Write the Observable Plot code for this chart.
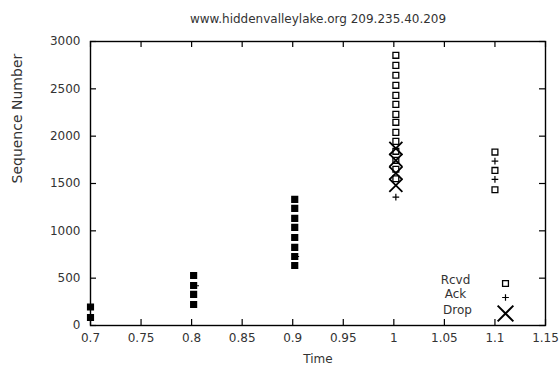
<!DOCTYPE html>
<html>
<head>
<meta charset="utf-8">
<script src="https://cdn.jsdelivr.net/npm/d3@7"></script>
<script src="https://cdn.jsdelivr.net/npm/@observablehq/plot@0.6"></script>
<style>
  html, body { margin: 0; padding: 0; background: #fff; }
</style>
</head>
<body>
<div id="chart"></div>
<script>
const title = "www.hiddenvalleylake.org 209.235.40.209";
const xLabel = "Time";
const yLabel = "Sequence Number";
const xTicks = [0.7, 0.75, 0.8, 0.85, 0.9, 0.95, 1, 1.05, 1.1, 1.15];
const xTickLabels = ["0.7", "0.75", "0.8", "0.85", "0.9", "0.95", "1", "1.05", "1.1", "1.15"];
const yTicks = [0, 500, 1000, 1500, 2000, 2500, 3000];

// Rcvd packets
const rcvdTime = [0.7, 0.7,
  0.802, 0.802, 0.802, 0.802,
  0.902, 0.902, 0.902, 0.902, 0.902, 0.902, 0.902, 0.902,
  1.002, 1.002, 1.002, 1.002, 1.002, 1.002, 1.002, 1.002, 1.002, 1.002,
  1.002, 1.002, 1.002, 1.002,
  1.1, 1.1, 1.1];
const rcvdSeq = [85, 195,
  222, 328, 423, 528,
  634, 729, 825, 930, 1036, 1131, 1237, 1332,
  1945, 2040, 2146, 2230, 2336, 2431, 2537, 2643, 2748, 2854,
  1840, 1745, 1650, 1550,
  1832, 1638, 1434];
// Acks
const ackTime = [0.804, 0.903, 1.002, 1.1, 1.1];
const ackSeq = [420, 729, 1356, 1737, 1543];
// Drops
const dropTime = [1.002, 1.002, 1.002, 1.002];
const dropSeq = [1870, 1745, 1610, 1480];

const legendLabels = ["Rcvd", "Ack", "Drop"];

const rcvd = rcvdTime.map((t, i) => ({t, s: rcvdSeq[i]}));
const ack = ackTime.map((t, i) => ({t, s: ackSeq[i]}));
const drop = dropTime.map((t, i) => ({t, s: dropSeq[i]}));

const W = 559, H = 370, mL = 90, mR = 14, mT = 41, mB = 45;
const pw = W - mL - mR, ph = H - mT - mB, tick = 6;
const ink = "#333";

const chart = Plot.plot({
  width: W, height: H,
  marginLeft: mL, marginRight: mR, marginTop: mT, marginBottom: mB,
  style: {fontFamily: "DejaVu Sans", fontSize: "12px", background: "white", color: "black"},
  x: {domain: [0.7, 1.15]},
  y: {domain: [0, 3000]},
  marks: [
    // tick labels
    Plot.axisX(xTicks, {label: null, tickSize: 0, tickPadding: 8, tickFormat: d => xTickLabels[xTicks.indexOf(d)], fill: ink}),
    Plot.axisY(yTicks, {label: null, tickSize: 0, tickPadding: 10, tickFormat: d => String(d), fill: ink}),
    // inward ticks, mirrored
    Plot.tickX(xTicks, {x: d => d, insetTop: ph - tick, strokeWidth: 1.2}),
    Plot.tickX(xTicks, {x: d => d, insetBottom: ph - tick, strokeWidth: 1.2}),
    Plot.tickY(yTicks, {y: d => d, insetRight: pw - tick, strokeWidth: 1.2}),
    Plot.tickY(yTicks, {y: d => d, insetLeft: pw - tick, strokeWidth: 1.2}),
    Plot.frame({stroke: "black", strokeWidth: 1.4}),
    // data
    Plot.dot(rcvd, {x: "t", y: "s", symbol: "square", r: 3.3, stroke: "black", strokeWidth: 1.3,
      fill: d => d.t < 0.95 ? "black" : "white"}),
    Plot.dot(ack, {x: "t", y: "s", symbol: "plus", r: 2.3, stroke: "black", strokeWidth: 1.2}),
    Plot.dot(drop, {x: "t", y: "s", symbol: "times", r: 6, stroke: "black", strokeWidth: 1.8}),
    // legend
    Plot.text([legendLabels[0]], {frameAnchor: "bottom-right", dx: -90, dy: -42, text: d => d, textAnchor: "middle", fill: ink}),
    Plot.text([legendLabels[1]], {frameAnchor: "bottom-right", dx: -90, dy: -28, text: d => d, textAnchor: "middle", fill: ink}),
    Plot.text([legendLabels[2]], {frameAnchor: "bottom-right", dx: -88, dy: -12, text: d => d, textAnchor: "middle", fill: ink}),
    Plot.dot([0], {frameAnchor: "bottom-right", dx: -40, dy: -42, symbol: "square", r: 3.3, stroke: "black", strokeWidth: 1.3, fill: "white"}),
    Plot.dot([0], {frameAnchor: "bottom-right", dx: -40, dy: -28, symbol: "plus", r: 2.3, stroke: "black", strokeWidth: 1.2}),
    Plot.dot([0], {frameAnchor: "bottom-right", dx: -40, dy: -12, symbol: "times", r: 7.2, stroke: "black", strokeWidth: 2}),
    // titles
    Plot.text([title], {frameAnchor: "top", dy: -27, text: d => d, fill: ink}),
    Plot.text([xLabel], {frameAnchor: "bottom", dy: 37, text: d => d, fill: ink}),
    Plot.text([yLabel], {frameAnchor: "left", dx: -73, rotate: -90, text: d => d, fill: ink, fontSize: 14})
  ]
});
document.getElementById("chart").append(chart);
</script>
</body>
</html>
